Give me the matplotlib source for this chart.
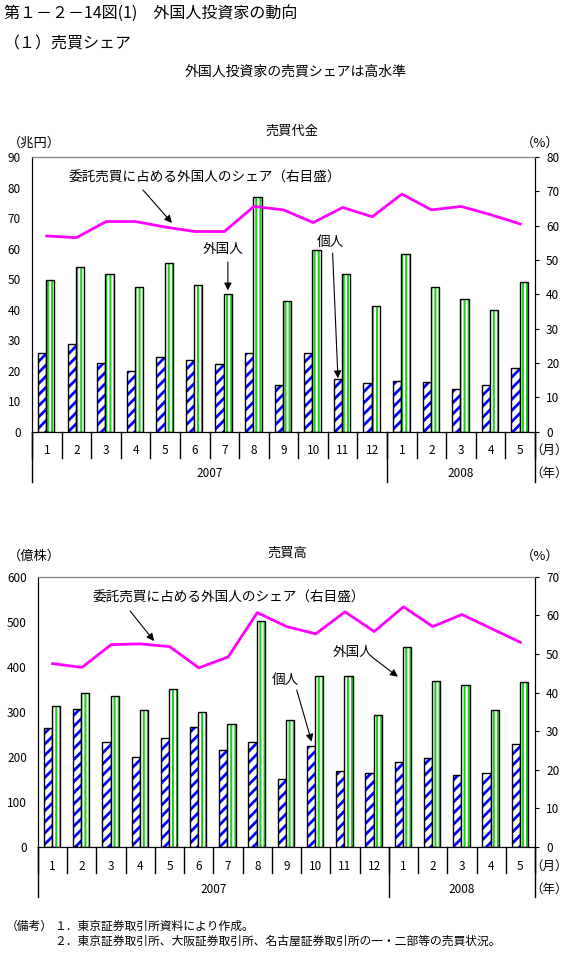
import matplotlib
matplotlib.use("Agg")
import matplotlib.pyplot as plt
import matplotlib.transforms as mtransforms
import numpy as np

plt.rcParams['font.family'] = ['Noto Sans CJK JP', 'DejaVu Sans']

W, H = 577, 955

months = ["1", "2", "3", "4", "5", "6", "7", "8", "9", "10", "11", "12",
          "1", "2", "3", "4", "5"]
years = ["2007", "2008"]
year_bounds = [0, 12, 17]

# 売買代金 (兆円) / シェア (%)
value_indiv = [25.8, 28.8, 22.4, 19.9, 24.4, 23.4, 22.1, 25.8, 15.2, 25.8,
               17.2, 15.9, 16.6, 16.2, 14.0, 15.2, 20.8]
value_foreign = [49.6, 53.9, 51.6, 47.5, 55.2, 48.0, 45.1, 76.9, 42.8, 59.5,
                 51.6, 41.2, 58.2, 47.5, 43.4, 39.8, 49.0]
value_share = [57.0, 56.5, 61.2, 61.2, 59.6, 58.3, 58.3, 65.6, 64.6, 60.9,
               65.3, 62.6, 69.2, 64.6, 65.6, 63.2, 60.5]

# 売買高 (億株) / シェア (%)
volume_indiv = [263.8, 306.0, 232.8, 199.6, 241.7, 266.0, 215.0, 232.8, 150.8,
                224.0, 168.5, 164.0, 188.5, 197.3, 159.6, 164.0, 228.4]
volume_foreign = [311.9, 341.4, 334.8, 303.8, 351.8, 299.3, 272.7, 501.0, 281.6,
                  379.0, 379.0, 292.7, 443.5, 368.0, 359.0, 303.8, 365.8]
volume_share = [47.5, 46.5, 52.4, 52.6, 51.9, 46.4, 49.2, 60.7, 57.1, 55.2,
                60.9, 55.8, 62.2, 57.1, 60.2, 56.6, 53.0]

share_label = "委託売買に占める外国人のシェア（右目盛）"

fig = plt.figure(figsize=(W / 100, H / 100), dpi=100)


def ftext(x, y, s, **kw):
    fig.text(x / W, 1 - y / H, s, **kw)


def arrow(ax, tip, start):
    ax.annotate("", xy=tip, xytext=start,
                arrowprops=dict(arrowstyle="-|>", color="black", lw=0.8,
                                mutation_scale=11, shrinkA=0, shrinkB=0))


def panel(box, indiv, foreign, share, lmax, lstep, rmax, rstep):
    x0, y0, x1, y1 = box
    hpx = y1 - y0
    ax = fig.add_axes([x0 / W, 1 - y1 / H, (x1 - x0) / W, hpx / H])
    x = np.arange(len(months))

    # hatched fill first, black outline on top
    b1 = ax.bar(x - 0.16, indiv, 0.28, color="white", edgecolor="#0000ff",
                hatch="///", lw=0)
    for p in b1:
        p.set_hatch_linewidth(2.0)
    ax.bar(x - 0.16, indiv, 0.28, color="none", edgecolor="black", lw=1)
    b2 = ax.bar(x + 0.12, foreign, 0.28, color="white", edgecolor="#22cc22",
                hatch="||||", lw=0)
    for p in b2:
        p.set_hatch_linewidth(1.5)
    ax.bar(x + 0.12, foreign, 0.28, color="none", edgecolor="black", lw=1)

    ax.set_xlim(-0.5, len(months) - 0.5)
    ax.set_ylim(0, lmax)
    ax.set_yticks(np.arange(0, lmax + 1, lstep))
    ax.tick_params(axis="y", length=0, labelsize=8.5, pad=8)
    ax.set_xticks([])

    ax2 = ax.twinx()
    ax2.plot(x, share, color="#ff00ff", lw=2)
    ax2.set_ylim(0, rmax)
    ax2.set_yticks(np.arange(0, rmax + 1, rstep))
    ax2.tick_params(axis="y", length=3, direction="out", labelsize=8.5, pad=5)

    for a in (ax, ax2):
        a.spines["top"].set_color("#808080")
        a.spines["left"].set_color("black")
        a.spines["right"].set_color("black")
        a.spines["bottom"].set_color("black")

    tr = ax.get_xaxis_transform()
    for b in np.arange(-0.5, len(months)):
        ax.plot([b, b], [0, -26 / hpx], transform=tr, clip_on=False,
                color="black", lw=1)
    for b in year_bounds:
        ax.plot([b - 0.5, b - 0.5], [0, -50 / hpx], transform=tr,
                clip_on=False, color="black", lw=1)

    mt = mtransforms.offset_copy(tr, fig=fig, x=0, y=-19, units="dots")
    yt = mtransforms.offset_copy(tr, fig=fig, x=0, y=-42, units="dots")
    for i, m in enumerate(months):
        ax.text(i, 0, m, transform=mt, ha="center", va="center", fontsize=8.5)
    for k, yr in enumerate(years):
        c = (year_bounds[k] + year_bounds[k + 1] - 1) / 2
        ax.text(c, 0, yr, transform=yt, ha="center", va="center", fontsize=8.5)

    ux = (549 - x0) / (x1 - x0)
    at = mtransforms.offset_copy(ax.transAxes, fig=fig, x=0, y=-19, units="dots")
    at2 = mtransforms.offset_copy(ax.transAxes, fig=fig, x=0, y=-42, units="dots")
    ax.text(ux, 0, "（月）", transform=at, ha="center", va="center", fontsize=9)
    ax.text(ux, 0, "（年）", transform=at2, ha="center", va="center", fontsize=9)
    return ax


ftext(4, 13, "第１－２－14図(1)　外国人投資家の動向", fontsize=11.5, va="center")
ftext(4, 44, "（１）売買シェア", fontsize=11.5, va="center")
ftext(296, 72, "外国人投資家の売買シェアは高水準", fontsize=10, ha="center", va="center")

# 売買代金
ftext(292, 131, "売買代金", fontsize=9.5, ha="center", va="center")
ftext(8, 143, "（兆円）", fontsize=9.5, va="center")
ftext(540, 143, "（%）", fontsize=9.5, ha="center", va="center")
ax = panel((32, 157, 535, 431.7), value_indiv, value_foreign, value_share,
           90, 10, 80, 10)
ax.text(5.35, 83.1, share_label, fontsize=9.8, ha="center", va="center")
arrow(ax, (4.23, 68.4), (3.25, 79.2))
ax.text(5.95, 60.0, "外国人", fontsize=9.8, ha="center", va="center")
arrow(ax, (6.12, value_foreign[6] + 1.2), (6.12, 55.6))
ax.text(9.59, 62.2, "個人", fontsize=9.8, ha="center", va="center")
arrow(ax, (9.84, value_indiv[10] + 0.3), (9.66, 58.5))

# 売買高
ftext(287, 553, "売買高", fontsize=9.5, ha="center", va="center")
ftext(8, 556, "（億株）", fontsize=9.5, va="center")
ftext(540, 556, "（%）", fontsize=9.5, ha="center", va="center")
ax = panel((38, 576.7, 535, 847), volume_indiv, volume_foreign, volume_share,
           600, 100, 70, 10)
ax.text(6.03, 552.7, share_label, fontsize=9.8, ha="center", va="center")
arrow(ax, (3.47, 457.3), (2.65, 523.9))
ax.text(7.97, 370.7, "個人", fontsize=9.8, ha="center", va="center")
arrow(ax, (8.86, volume_indiv[9] + 9.7), (8.35, 348.5))
ax.text(10.26, 432.8, "外国人", fontsize=9.8, ha="center", va="center")
arrow(ax, (11.81, 378.0), (10.91, 422.4))

ftext(6, 926, "（備考）", fontsize=8.5, va="center")
ftext(54, 926, "１．東京証券取引所資料により作成。", fontsize=8.5, va="center")
ftext(54, 941, "２．東京証券取引所、大阪証券取引所、名古屋証券取引所の一・二部等の売買状況。",
      fontsize=8.5, va="center")

fig.savefig("out.png", dpi=100)
